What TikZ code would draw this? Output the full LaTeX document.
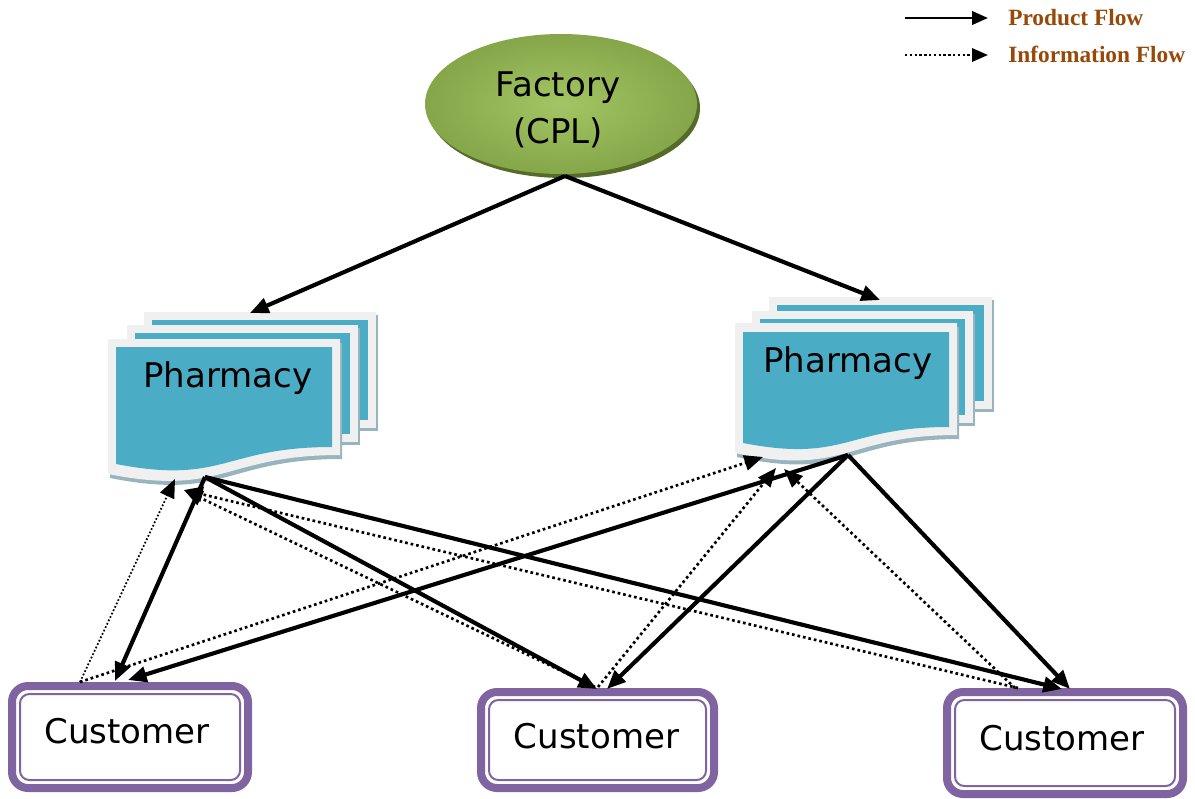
\documentclass[tikz,border=0pt]{standalone}
\usepackage{fontspec}
\setmainfont{DejaVu Sans}
\newfontfamily\legendfont{Liberation Serif}
\usetikzlibrary{arrows.meta,shapes.geometric}

\definecolor{tealfill}{HTML}{4BACC6}
\definecolor{pageedge}{HTML}{F0F0F0}
\definecolor{pageshadow}{HTML}{98B4BE}
\definecolor{custpurple}{HTML}{8064A2}
\definecolor{legendbrown}{HTML}{984807}
\definecolor{facin}{HTML}{A3C563}
\definecolor{facout}{HTML}{6F8F35}
\definecolor{facrim}{HTML}{556B2A}
\pgfdeclareradialshading{facshade}{\pgfpointorigin}{color(0bp)=(facin); color(44bp)=(facout); color(50bp)=(facout)}

\begin{document}
\begin{tikzpicture}[x=0.75pt,y=-0.75pt,
  pagerim/.style={fill=pageedge},
  pagebody/.style={fill=tealfill},
  pageshade/.style={fill=pageshadow},
  boxtext/.style={inner sep=0pt, anchor=base, font=\fontsize{25.5}{34}\selectfont},
  legtext/.style={inner sep=0pt, anchor=base west, text=legendbrown,
                  font=\legendfont\bfseries\fontsize{17.5}{21}\selectfont},
  custbox/.style={draw=custpurple, fill=white, line width=6pt, rounded corners=12pt,
                  inner sep=0pt, outer sep=0pt},
  custline/.style={draw=custpurple, line width=1.5pt, rounded corners=7pt},
  prodflow/.style={line width=3.1pt, -{Triangle[length=14pt,width=11.5pt]}},
  infoflow/.style={line width=2pt, dash pattern=on 2pt off 2.2pt,
                   -{Triangle[length=14pt,width=11.5pt]}},
  thininfo/.style={infoflow, line width=1.3pt, dash pattern=on 1.3pt off 1.5pt},
]
\useasboundingbox (0,0) rectangle (1195,799);

% ---------- legend ----------
\coordinate (lgpa) at (905,18);
\coordinate (lgpb) at (988,18);
\coordinate (lgia) at (905,55);
\coordinate (lgib) at (988,55);
\draw[prodflow, line width=2.2pt, -{Triangle[length=12pt,width=10pt]}] (lgpa) -- (lgpb);
\draw[infoflow, line width=1.8pt, dash pattern=on 1.8pt off 1.8pt,
      -{Triangle[length=12pt,width=10pt]}] (lgia) -- (lgib);
\node[legtext] (lgprod) at (1008,26) {Product Flow};
\node[legtext] (lginfo) at (1008,63) {Information Flow};

% ---------- factory ----------
\fill[facrim] (564,108) ellipse [x radius=102pt, y radius=52.5pt];
\node[ellipse, minimum width=204pt, minimum height=105pt, inner sep=0pt,
      shading=facshade] (fac) at (561,104) {};
\node[align=center, inner sep=0pt, font=\fontsize{25.5}{35}\selectfont]
      (factxt) at (558,110) {Factory\\(CPL)};
\coordinate (facb) at (565,176);

% ---------- left pharmacy (stacked pages) ----------
\fill[pageshade] (146,315) rectangle (378,431);
\fill[pagerim] (144,312) rectangle (376,428);
\fill[pagebody] (152,320) rectangle (368,420);
\fill[pageshade] (129,328) rectangle (360,445);
\fill[pagerim] (127,325) rectangle (358,442);
\fill[pagebody] (135,333) rectangle (350,434);
\fill[pageshade, shift={(2,4)}] (108,339) -- (340,339) -- (340,455)
   .. controls (224,455) and (224,497) .. (108,474) -- cycle;
\fill[pagerim] (108,339) -- (340,339) -- (340,455)
   .. controls (224,455) and (224,497) .. (108,474) -- cycle;
\fill[pagebody] (116,347) -- (332,347) -- (332,447)
   .. controls (224,447) and (224,485) .. (116,464) -- cycle;
\node[boxtext] (ph1) at (228,387) {Pharmacy};

% ---------- right pharmacy (stacked pages) ----------
\fill[pageshade] (771,300) rectangle (994,412);
\fill[pagerim] (769,297) rectangle (992,409);
\fill[pagebody] (777,305) rectangle (984,401);
\fill[pageshade] (754,314) rectangle (975,426);
\fill[pagerim] (752,311) rectangle (973,423);
\fill[pagebody] (760,319) rectangle (965,415);
\fill[pageshade, shift={(2,4)}] (735,323) -- (957,323) -- (957,435)
   .. controls (846,435) and (846,477) .. (735,453) -- cycle;
\fill[pagerim] (735,323) -- (957,323) -- (957,435)
   .. controls (846,435) and (846,477) .. (735,453) -- cycle;
\fill[pagebody] (743,332) -- (949,332) -- (949,427)
   .. controls (846,427) and (846,463) .. (743,443) -- cycle;
\node[boxtext] (ph2) at (848,372) {Pharmacy};

% ports on the pharmacies
\coordinate (p1top) at (250,313);
\coordinate (p2top) at (880,300);
\coordinate (p1o) at (205,477);
\coordinate (p2o) at (848,455);
\coordinate (p1in1) at (175,479);
\coordinate (p1in2) at (184,490);
\coordinate (p2in1) at (763,457);
\coordinate (p2in2) at (776,468);
\coordinate (p2in3) at (784,469);

% ---------- customers ----------
\node[custbox, minimum width=177pt, minimum height=76.5pt] (cust1) at (130,737) {};
\node[custbox, minimum width=174.75pt, minimum height=72pt] (cust2) at (597.5,740) {};
\node[custbox, minimum width=177pt, minimum height=76.5pt] (cust3) at (1065,743) {};
\foreach \c in {cust1,cust2,cust3}{
  \draw[custline] ([shift={(6pt,-6pt)}]\c.north west) rectangle ([shift={(-6pt,6pt)}]\c.south east);
}
\node[boxtext] (cust1txt) at (127,743) {Customer};
\node[boxtext] (cust2txt) at (596.5,748) {Customer};
\node[boxtext] (cust3txt) at (1062,750) {Customer};

% ports on the customers
\coordinate (c1in1) at (115,681);
\coordinate (c1in2) at (128,680);
\coordinate (c2in1) at (597,689);
\coordinate (c2in2) at (607,689);
\coordinate (c3in1) at (1062,689);
\coordinate (c3in2) at (1070,689);
\coordinate (c1o) at (80,682);
\coordinate (c2o) at (595,687);
\coordinate (c2ob) at (598,687);
\coordinate (c3o) at (1018,688);
\coordinate (c3ob) at (1015,688);

% ---------- product flow ----------
\draw[prodflow] (facb) -- (p1top);
\draw[prodflow] (facb) -- (p2top);
\draw[prodflow] (p1o) -- (c1in1);
\draw[prodflow] (p1o) -- (c2in1);
\draw[prodflow] (p1o) -- (c3in1);
\draw[prodflow] (p2o) -- (c1in2);
\draw[prodflow] (p2o) -- (c2in2);
\draw[prodflow] (p2o) -- (c3in2);

% ---------- information flow ----------
\draw[thininfo] (c1o) -- (p1in1);
\draw[infoflow] (c2o) -- (p1in2);
\draw[infoflow] (c3o) -- (p1in2);
\draw[infoflow] (c1o) -- (p2in1);
\draw[infoflow] (c2ob) -- (p2in2);
\draw[infoflow] (c3ob) -- (p2in3);
\end{tikzpicture}
\end{document}
